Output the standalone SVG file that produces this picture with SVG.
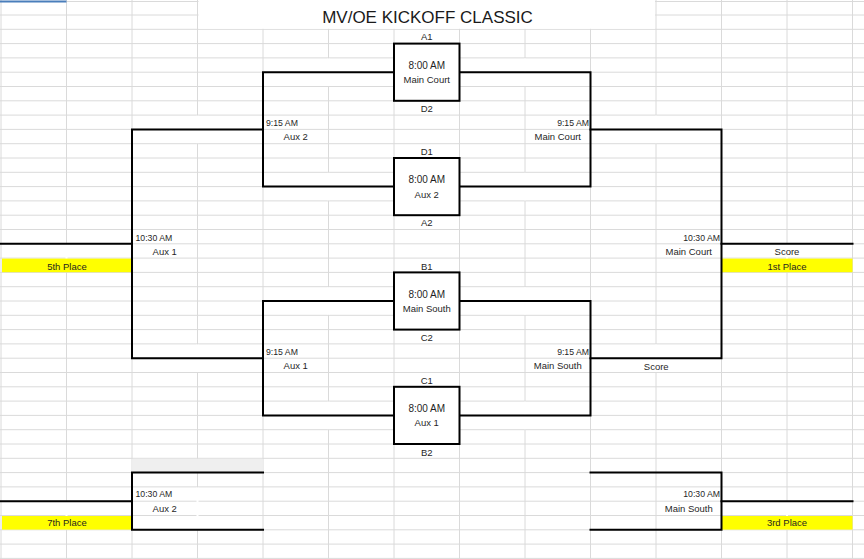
<svg xmlns="http://www.w3.org/2000/svg" width="864" height="559" viewBox="0 0 864 559">
<style>
text{font-family:"Liberation Sans",Arial,sans-serif;fill:#1f1f1f;font-size:9.5px}
.c{text-anchor:middle}
.e{text-anchor:end}
.t{font-size:10px}
.s{font-size:8.7px}
.title{font-size:17px;fill:#1a1a1a}
.grid{stroke:#dadada;stroke-width:1;fill:none}
.gap{fill:#ffffff}
.br{stroke:#000;stroke-width:2;fill:none;stroke-linecap:square}
.box{stroke:#000;stroke-width:2;fill:#fff}
.yel{fill:#ffff00}
</style>
<rect width="864" height="559" fill="#fff"/>
<g id="grid">
<path class="grid" d="M0 1.5H864M0 15H864M0 29.3H864M0 43.6H864M0 57.9H864M0 72.2H864M0 86.5H864M0 100.8H864M0 115.1H864M0 129.4H864M0 143.7H864M0 158H864M0 172.3H864M0 186.6H864M0 200.9H864M0 215.2H864M0 229.5H864M0 243.8H864M0 258.1H864M0 272.4H864M0 286.7H864M0 301H864M0 315.3H864M0 329.6H864M0 343.9H864M0 358.2H864M0 372.5H864M0 386.8H864M0 401.1H864M0 415.4H864M0 429.7H864M0 444H864M0 458.3H864M0 472.6H864M0 486.9H864M0 501.2H864M0 515.5H864M0 529.8H864M0 544.1H864M0 558.4H864"/>
<path class="grid" d="M1 0V559M66.5 0V559M132 0V559M197.5 0V559M263 0V559M328.5 0V559M394 0V559M459.5 0V559M525 0V559M590.5 0V559M656 0V559M721.5 0V559M787 0V559M852.5 0V559"/>
<rect class="gap" x="198.5" y="0" width="456.5" height="28.8"/>
<rect class="gap" x="196.5" y="115.6" width="2" height="27.6"/>
<rect class="gap" x="196.5" y="344.4" width="2" height="27.6"/>
<rect class="gap" x="196.5" y="487.4" width="2" height="41.9"/>
<rect class="gap" x="655" y="115.6" width="2" height="27.6"/>
<rect class="gap" x="655" y="344.4" width="2" height="27.6"/>
<rect class="gap" x="327.5" y="58.4" width="2" height="27.6"/>
<rect class="gap" x="327.5" y="172.8" width="2" height="27.6"/>
<rect class="gap" x="327.5" y="287.2" width="2" height="27.6"/>
<rect class="gap" x="327.5" y="401.6" width="2" height="27.6"/>
<rect class="gap" x="524" y="58.4" width="2" height="27.6"/>
<rect class="gap" x="524" y="172.8" width="2" height="27.6"/>
<rect class="gap" x="524" y="287.2" width="2" height="27.6"/>
<rect class="gap" x="524" y="401.6" width="2" height="27.6"/>
<rect class="gap" x="65.5" y="244.3" width="2" height="27.6"/>
<rect class="gap" x="65.5" y="501.7" width="2" height="27.6"/>
<rect class="gap" x="786" y="244.3" width="2" height="27.6"/>
<rect class="gap" x="786" y="501.7" width="2" height="27.6"/>
<rect x="132.5" y="458.8" width="130" height="13.3" fill="#efefef"/>
<path d="M0 1.6H66.5" stroke="#4a7ebb" stroke-width="2"/>
</g>
<g id="title">
<text class="title c" x="427.5" y="23.3">MV/OE KICKOFF CLASSIC</text>
</g>
<g id="places">
<rect class="yel" x="2" y="258.6" width="130" height="13.6"/>
<rect class="yel" x="721.5" y="258.6" width="131" height="13.6"/>
<rect class="yel" x="2" y="516" width="130" height="13.6"/>
<rect class="yel" x="721.5" y="516" width="131" height="13.6"/>
</g>
<g id="connectors">
<path class="br" d="M394 72.2H263V186.6H394"/>
<path class="br" d="M459.5 72.2H590.5V186.6H459.5"/>
<path class="br" d="M263 129.4H132V358.2H263"/>
<path class="br" d="M590.5 129.4H721.5V358.2H590.5"/>
<path class="br" d="M394 301H263V415.4H394"/>
<path class="br" d="M459.5 301H590.5V415.4H459.5"/>
<path class="br" d="M1 243.8H132"/>
<path class="br" d="M721.5 243.8H852.5"/>
<path class="br" d="M263 472.6H132V529.8H263"/>
<path class="br" d="M1 501.2H132"/>
<path class="br" d="M590.5 472.6H721.5V529.8H590.5"/>
<path class="br" d="M721.5 501.2H852.5"/>
</g>
<g id="match-a1-d2">
<rect class="box" x="394" y="43.6" width="65.5" height="57.2"/>
<text class="c" x="426.75" y="40.3">A1</text>
<text class="c t" x="426.75" y="68.9">8:00 AM</text>
<text class="c" x="426.75" y="83.2">Main Court</text>
<text class="c" x="426.75" y="111.8">D2</text>
</g>
<g id="match-d1-a2">
<rect class="box" x="394" y="158" width="65.5" height="57.2"/>
<text class="c" x="426.75" y="154.9">D1</text>
<text class="c t" x="426.75" y="183.3">8:00 AM</text>
<text class="c" x="426.75" y="197.6">Aux 2</text>
<text class="c" x="426.75" y="226.4">A2</text>
</g>
<g id="match-b1-c2">
<rect class="box" x="394" y="272.4" width="65.5" height="57.2"/>
<text class="c" x="426.75" y="269.6">B1</text>
<text class="c t" x="426.75" y="297.7">8:00 AM</text>
<text class="c" x="426.75" y="312">Main South</text>
<text class="c" x="426.75" y="340.8">C2</text>
</g>
<g id="match-c1-b2">
<rect class="box" x="394" y="386.8" width="65.5" height="57.2"/>
<text class="c" x="426.75" y="383.7">C1</text>
<text class="c t" x="426.75" y="412.1">8:00 AM</text>
<text class="c" x="426.75" y="426.4">Aux 1</text>
<text class="c" x="426.75" y="455.6">B2</text>
</g>
<g id="semi-top-left">
<text class="s" x="266" y="125.9">9:15 AM</text>
<text class="c" x="295.75" y="140.2">Aux 2</text>
</g>
<g id="semi-top-right">
<text class="s e" x="589" y="125.9">9:15 AM</text>
<text class="c" x="557.75" y="140.2">Main Court</text>
</g>
<g id="semi-bottom-left">
<text class="s" x="266" y="354.8">9:15 AM</text>
<text class="c" x="295.75" y="369.2">Aux 1</text>
</g>
<g id="semi-bottom-right">
<text class="s e" x="589" y="354.8">9:15 AM</text>
<text class="c" x="557.75" y="369.2">Main South</text>
<text class="c" x="656.25" y="369.9">Score</text>
</g>
<g id="fifth-place-game">
<text class="s" x="135.5" y="240.7">10:30 AM</text>
<text class="c" x="164.75" y="255">Aux 1</text>
<text class="c" x="67" y="270.3">5th Place</text>
</g>
<g id="final">
<text class="s e" x="720" y="240.7">10:30 AM</text>
<text class="c" x="688.75" y="255">Main Court</text>
<text class="c" x="787" y="255">Score</text>
<text class="c" x="787" y="270.3">1st Place</text>
</g>
<g id="seventh-place-game">
<text class="s" x="135.5" y="496.8">10:30 AM</text>
<text class="c" x="164.75" y="512">Aux 2</text>
<text class="c" x="67" y="526.3">7th Place</text>
</g>
<g id="third-place-game">
<text class="s e" x="720" y="496.8">10:30 AM</text>
<text class="c" x="688.75" y="512">Main South</text>
<text class="c" x="787" y="526.3">3rd Place</text>
</g>
</svg>
